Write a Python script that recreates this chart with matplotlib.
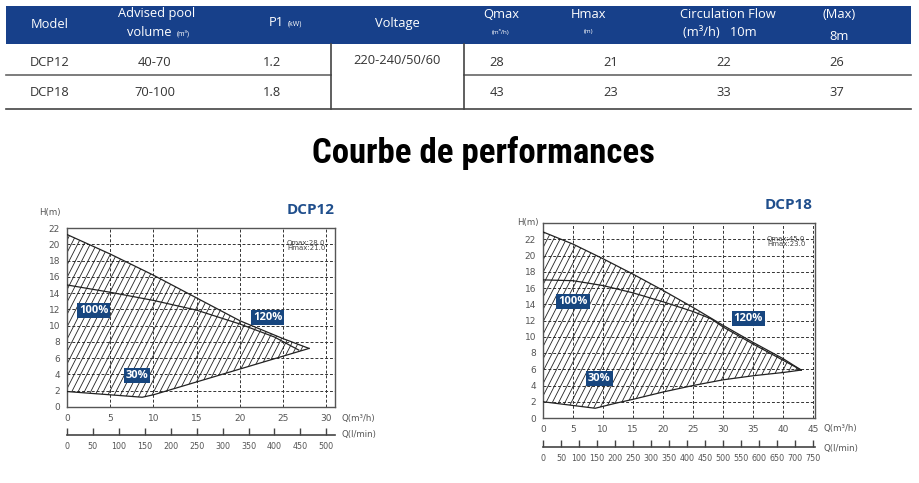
import numpy as np
import matplotlib
matplotlib.use("Agg")
import matplotlib.pyplot as plt
from matplotlib.patches import Rectangle, Polygon
from matplotlib.lines import Line2D

# ---- table data ----
models = ["DCP12", "DCP18"]
pool_volume = ["40-70", "70-100"]
p1_kw = ["1.2", "1.8"]
voltage = "220-240/50/60"
q_max = ["28", "43"]
h_max = ["21", "23"]
flow_10m = ["22", "33"]
flow_8m = ["26", "37"]

# ---- curve data (Q in m3/h, H in m) ----
dcp12_top_q = [0, 5, 10, 15, 20, 25, 28]
dcp12_top_h = [21.2, 18.8, 16.2, 13.4, 10.6, 8.4, 7.2]
dcp12_mid_q = [0, 5, 10, 15, 20, 24, 26.8]
dcp12_mid_h = [15.0, 14.1, 13.1, 11.9, 10.2, 8.6, 7.0]
dcp12_bot_q = [0, 8.7, 10, 28]
dcp12_bot_h = [1.9, 1.2, 1.5, 7.2]

dcp18_top_q = [0, 5, 10, 15, 20, 25, 30, 35, 40, 43]
dcp18_top_h = [22.9, 21.4, 19.6, 17.7, 15.7, 13.6, 11.4, 9.3, 7.3, 5.9]
dcp18_mid_q = [0, 5, 10, 15, 20, 25, 28, 30, 35, 40, 43]
dcp18_mid_h = [17.0, 16.9, 16.3, 15.4, 14.3, 13.1, 12.2, 11.2, 9.1, 7.1, 5.9]
dcp18_bot_q = [0, 8.7, 12, 15, 20, 25, 30, 35, 40, 43]
dcp18_bot_h = [2.0, 1.2, 1.8, 2.3, 3.2, 4.0, 4.7, 5.2, 5.6, 5.9]

W, H = 919, 483
NAVY = "#17408a"
BOX = "#17467f"
fig = plt.figure(figsize=(W / 100, H / 100), dpi=100)


def fx(x):
    return x / W


def fy(y):
    return 1 - y / H


def ftext(x, y, s, size=9.3, color="#333333", ha="center", weight="normal", family="Open Sans"):
    fig.text(fx(x), fy(y), s, fontsize=size, color=color, ha=ha, va="center",
             weight=weight, family=family)


def fline(x0, x1, y0, y1, color="#555555", lw=1.2):
    fig.add_artist(Line2D([fx(x0), fx(x1)], [fy(y0), fy(y1)], color=color, lw=lw,
                          transform=fig.transFigure))


# ---- table ----
fig.add_artist(Rectangle((fx(6), fy(44)), (911 - 6) / W, 38 / H, transform=fig.transFigure,
                         facecolor=NAVY, edgecolor="none"))
wh = "white"
ftext(50, 24, "Model", color=wh)
ftext(157, 14, "Advised pool", color=wh)
ftext(149, 33, "volume", color=wh)
ftext(183, 34, "(m³)", size=5, color=wh)
ftext(276, 23, "P1", color=wh)
ftext(295, 24, "(kW)", size=5, color=wh)
ftext(397, 24, "Voltage", color=wh)
ftext(501, 15, "Qmax", color=wh)
ftext(501, 32, "(m³/h)", size=4.5, color=wh)
ftext(589, 15, "Hmax", color=wh)
ftext(589, 32, "(m)", size=4.5, color=wh)
ftext(728, 15, "Circulation Flow", color=wh)
ftext(720, 33, "(m³/h)   10m", color=wh)
ftext(839, 15, "(Max)", color=wh)
ftext(839, 37, "8m", color=wh)

row_y = [63, 93]
for i in range(2):
    ftext(30, row_y[i], models[i], ha="left")
    ftext(155, row_y[i], pool_volume[i])
    ftext(272, row_y[i], p1_kw[i])
    ftext(497, row_y[i], q_max[i])
    ftext(611, row_y[i], h_max[i])
    ftext(724, row_y[i], flow_10m[i])
    ftext(837, row_y[i], flow_8m[i])
ftext(397, 60, voltage)

fline(6, 331, 75, 75, color="#666666")
fline(464, 911, 75, 75, color="#666666")
fline(6, 911, 108.5, 108.5, color="#444444")
fline(331, 331, 44, 108.5, color="#444444")
fline(464, 464, 44, 108.5, color="#444444")

# ---- title ----
fig.text(fx(483), fy(153), "Courbe de performances", fontsize=25, weight="bold",
         ha="center", va="center", family=["Roboto Condensed", "Liberation Sans Narrow", "Roboto"])


def hatch(ax, qs, hs, step_px=6.3, angle=63):
    patch = Polygon(np.column_stack([qs, hs]), closed=True, fc="none", ec="none")
    ax.add_patch(patch)
    pos = ax.get_position()
    x0, x1 = ax.get_xlim()
    y0, y1 = ax.get_ylim()
    sx = pos.width * W / (x1 - x0)
    sy = pos.height * H / (y1 - y0)
    slope = np.tan(np.radians(angle)) * sx / sy
    dq = step_px / sx
    span = (y1 - y0) / slope
    for c in np.arange(x0 - span, x1, dq):
        ax.plot([c, c + span], [y0, y1], color="#222222", lw=0.6, clip_path=patch)


def tag(ax, q, h, s):
    ax.text(q, h, s, fontsize=8, color="white", weight="bold", ha="center", va="center",
            family="Open Sans",
            bbox=dict(boxstyle="square,pad=0.18", fc=BOX, ec="none"), zorder=5)


def chart(rect, xmax, ymax, qticks, lticks, top, mid, bot, name, name_xy, info, tags,
          sec_loc, hm_xy, qlabel_xy, llabel_xy):
    ax = fig.add_axes(rect)
    ax.set_xlim(0, xmax)
    ax.set_ylim(0, ymax)
    ax.set_xticks(qticks)
    ax.set_yticks(np.arange(0, 23, 2))
    ax.tick_params(length=0, labelsize=6.5, labelcolor="#555555", pad=5)
    for q in qticks[1:]:
        ax.axvline(q, color="#333333", lw=0.7, ls=(0, (3, 2)), zorder=1)
    for h in range(2, 23, 2):
        if h < ymax:
            ax.axhline(h, color="#333333", lw=0.7, ls=(0, (3, 2)), zorder=1)
    for s in ax.spines.values():
        s.set_color("#555555")
        s.set_linewidth(1.0)
    hatch(ax, top[0] + bot[0][::-1], top[1] + bot[1][::-1])
    for qs, hs in (top, mid, bot):
        ax.plot(qs, hs, color="#222222", lw=0.9, zorder=3)
    for q, h, s in tags:
        tag(ax, q, h, s)
    ax.text(0.965, 0.935, info, transform=ax.transAxes, fontsize=5, color="#444444",
            ha="right", va="top", linespacing=0.9)
    sec = ax.secondary_xaxis(sec_loc, functions=(lambda q: q * 1000 / 60, lambda l: l * 60 / 1000))
    sec.set_xticks(lticks)
    sec.tick_params(direction="in", length=5, width=1, labelsize=5.8, labelcolor="#555555",
                    color="#444444", pad=5)
    sec.spines["bottom"].set_color("#444444")
    sec.spines["bottom"].set_linewidth(1.2)
    fig.text(fx(name_xy[0]), fy(name_xy[1]), name, fontsize=11, weight="bold", color="#1f4e8c",
             ha="right", va="center", family="Open Sans")
    ftext(hm_xy[0], hm_xy[1], "H(m)", size=6.2, color="#555555", family="DejaVu Sans")
    ftext(qlabel_xy[0], qlabel_xy[1], "Q(m³/h)", size=6.2, color="#555555", ha="left",
          family="DejaVu Sans")
    ftext(llabel_xy[0], llabel_xy[1], "Q(l/min)", size=6.2, color="#555555", ha="left",
          family="DejaVu Sans")
    return ax


chart([fx(67), fy(407), (335 - 67) / W, (407 - 228) / H], 31, 22,
      list(range(0, 31, 5)), list(range(0, 501, 50)),
      (dcp12_top_q, dcp12_top_h), (dcp12_mid_q, dcp12_mid_h), (dcp12_bot_q, dcp12_bot_h),
      "DCP12", (335, 210), "Qmax:28.0\nHmax:21.0",
      [(3.1, 11.8, "100%"), (23.2, 11.0, "120%"), (8.1, 3.9, "30%")],
      -0.156, (50, 212), (341, 418), (341, 435))

chart([fx(543), fy(418), (815 - 543) / W, (418 - 223) / H], 45.3, 24,
      list(range(0, 46, 5)), list(range(0, 751, 50)),
      (dcp18_top_q, dcp18_top_h), (dcp18_mid_q, dcp18_mid_h), (dcp18_bot_q, dcp18_bot_h),
      "DCP18", (813, 205), "Qmax:45.0\nHmax:23.0",
      [(5.0, 14.3, "100%"), (34.2, 12.2, "120%"), (9.4, 4.9, "30%")],
      -0.149, (528, 223), (823, 428), (823, 448))

fig.savefig("out.png", dpi=100)
